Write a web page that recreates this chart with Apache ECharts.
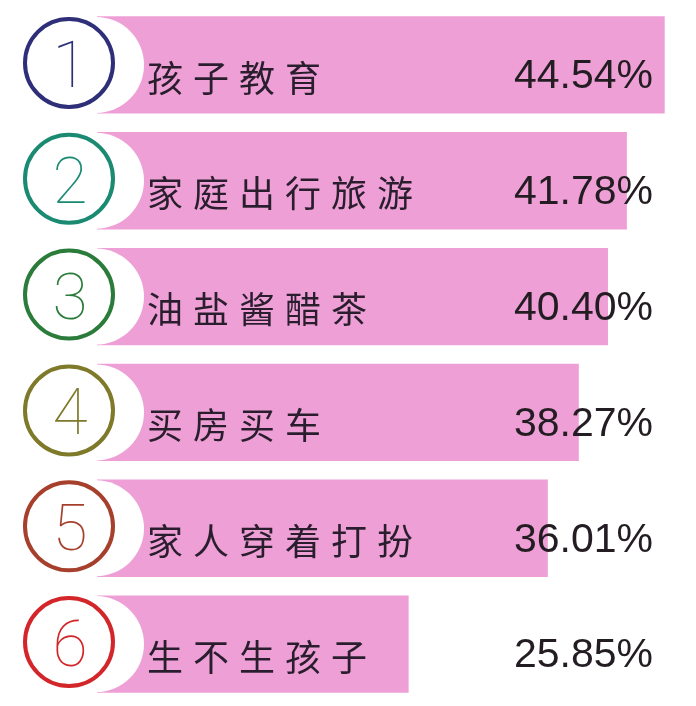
<!DOCTYPE html>
<html><head><meta charset="utf-8">
<script src="https://cdn.jsdelivr.net/npm/echarts@6.0.0/dist/echarts.min.js"></script>
<style>html,body{margin:0;padding:0;background:#fff}#c{width:696px;height:706px}</style>
</head><body><div id="c"></div>
<script>
const categories = ['孩子教育','家庭出行旅游','油盐酱醋茶','买房买车','家人穿着打扮','生不生孩子'];
const ranks = ['1','2','3','4','5','6'];
const values = [44.54, 41.78, 40.40, 38.27, 36.01, 25.85];
const valueLabels = ['44.54%','41.78%','40.40%','38.27%','36.01%','25.85%'];
const ringColors = ['#2e2f78','#1b8a73','#2b7c3b','#7f7a2a','#a6402d','#d3262b'];

const chart = echarts.init(document.getElementById('c'));
chart.setOption({
  animation: false,
  backgroundColor: '#fff',
  grid: {left: 54.5, right: 11.3, top: 7, bottom: 4},
  xAxis: {type: 'value', min: 0, max: 46, show: false},
  yAxis: {type: 'category', data: categories, inverse: true, show: false},
  series: [{
    type: 'custom',
    data: values.map((v, i) => [v, i]),
    encode: {x: 0, y: 1},
    renderItem: (params, api) => {
      const i = api.value(1);
      const end = api.coord([api.value(0), i]);
      const cy = end[1];
      const h = api.size([0, 1])[1] * 0.84;
      const left = 97;
      const children = [
        {type: 'rect', shape: {x: left, y: cy - h / 2, width: end[0] - left, height: h}, style: {fill: '#eea0d6'}, z2: 1},
        {type: 'circle', shape: {cx: 96, cy: cy, r: 48}, style: {fill: '#ffffff'}, z2: 2},
        {type: 'circle', shape: {cx: 69, cy: cy - 2, r: 44}, style: {fill: 'none', stroke: ringColors[i], lineWidth: 4}, z2: 3},
        {type: 'text', x: 70, y: cy + 6, style: {text: ranks[i], fill: ringColors[i], font: '100 64px Roboto', align: 'center', verticalAlign: 'middle'}, z2: 4},
        {type: 'text', x: 653, y: cy + 12, style: {text: valueLabels[i], fill: '#231c22', font: '41px "Liberation Sans"', align: 'right', verticalAlign: 'middle'}, z2: 5}
      ];
      const chars = Array.from(categories[i]);
      chars.forEach((ch, k) => {
        children.push({type: 'text', x: 165 + k * 46, y: cy + 13,
          style: {text: ch, fill: '#2a1e2e', font: '400 36px "Noto Sans CJK SC"', align: 'center', verticalAlign: 'middle'}, z2: 5});
      });
      return {type: 'group', children: children};
    }
  }]
});
</script>
</body></html>
